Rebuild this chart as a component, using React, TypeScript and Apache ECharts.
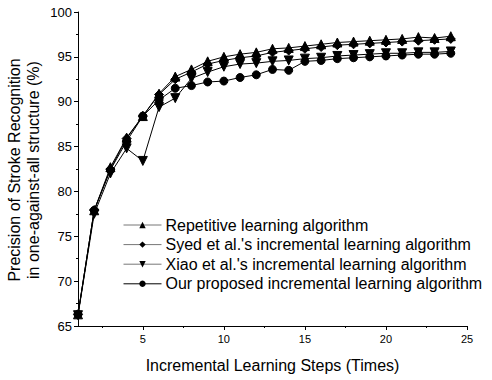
import React, { useEffect, useRef } from "react";
import * as echarts from "echarts";

const steps = [1,2,3,4,5,6,7,8,9,10,11,12,13,14,15,16,17,18,19,20,21,22,23,24];
const repetitive = [66.3, 77.9, 82.7, 86.0, 88.4, 90.9, 92.8, 93.6, 94.5, 95.0, 95.3, 95.5, 95.9, 96.0, 96.2, 96.4, 96.6, 96.7, 96.8, 96.9, 97.0, 97.2, 97.1, 97.3];
const syed = [66.3, 77.9, 82.5, 85.9, 88.4, 90.8, 92.5, 93.3, 94.2, 94.6, 94.9, 95.1, 95.5, 95.7, 95.9, 96.1, 96.3, 96.4, 96.5, 96.6, 96.7, 96.8, 96.9, 97.0];
const xiao = [66.2, 77.5, 82.0, 84.8, 83.4, 89.4, 90.4, 92.6, 93.3, 93.9, 94.2, 94.3, 94.5, 94.6, 94.8, 94.9, 95.1, 95.2, 95.3, 95.4, 95.4, 95.5, 95.5, 95.6];
const ours = [66.3, 77.9, 82.4, 85.6, 88.4, 90.2, 91.5, 91.8, 92.2, 92.3, 92.7, 93.0, 93.6, 93.5, 94.5, 94.6, 94.8, 94.9, 95.0, 95.1, 95.2, 95.3, 95.3, 95.4];
const seriesNames = [
  "Repetitive learning algorithm",
  "Syed et al.'s incremental learning algorithm",
  "Xiao et al.'s incremental learning algorithm",
  "Our proposed incremental learning algorithm",
];
const xMajorTicks = [5, 10, 15, 20, 25];
const xMinorTicks = [2.5, 7.5, 12.5, 17.5, 22.5];

const FONT = "'Liberation Sans', Arial, sans-serif";
const triDown = "path://M0,0 L10,0 L5,9 Z";

export default function App() {
  const ref = useRef<HTMLDivElement>(null);
  useEffect(() => {
    const chart = echarts.init(ref.current!, null, { renderer: "svg" });
    const mk = (vals: number[]) => steps.map((s, i) => [s, vals[i]]);
    const symbols = ["triangle", "diamond", triDown, "circle"];
    const sizes = [9, 9, 9, 8];
    const allData = [repetitive, syed, xiao, ours];
    chart.setOption({
      animation: false,
      backgroundColor: "#fff",
      textStyle: { fontFamily: FONT },
      grid: { left: 78, right: 25, top: 12, bottom: 54, containLabel: false },
      xAxis: [
        {
          type: "value",
          min: 1,
          max: 25,
          name: "Incremental Learning Steps (Times)",
          nameLocation: "middle",
          nameGap: 31,
          nameTextStyle: { fontSize: 16, color: "#000", fontFamily: FONT },
          axisLine: { show: true, lineStyle: { color: "#000", width: 1 } },
          axisTick: { show: true, length: 4, lineStyle: { color: "#000" }, customValues: xMajorTicks },
          axisLabel: { color: "#000", fontSize: 11, margin: 7, fontFamily: FONT, customValues: xMajorTicks },
          splitLine: { show: false },
        },
        {
          type: "value",
          min: 1,
          max: 25,
          position: "bottom",
          axisLine: { show: false },
          axisTick: { show: true, length: 2, lineStyle: { color: "#000" }, customValues: xMinorTicks },
          axisLabel: { show: false },
          splitLine: { show: false },
        },
      ],
      yAxis: {
        type: "value",
        min: 65,
        max: 100,
        interval: 5,
        axisLine: { show: true, lineStyle: { color: "#000", width: 1 } },
        axisTick: { show: true, length: 4, lineStyle: { color: "#000" } },
        minorTick: { show: true, splitNumber: 2, length: 2, lineStyle: { color: "#000" } },
        axisLabel: { color: "#000", fontSize: 13, margin: 6, fontFamily: FONT },
        splitLine: { show: false },
      },
      legend: {
        orient: "vertical",
        left: 118,
        top: 212,
        itemWidth: 38,
        itemHeight: 8,
        itemGap: 3.6,
        textStyle: { fontSize: 16, lineHeight: 16, color: "#000", fontFamily: FONT, padding: [0, 0, 0, -1] },
        data: seriesNames.map((n, i) => ({
          name: n,
          lineStyle: { color: i < 3 ? "#777" : "#000", width: 1 },
        })),
      },
      graphic: [
        {
          type: "text",
          x: 24,
          y: 170,
          rotation: Math.PI / 2,
          style: {
            text: "Precision of Stroke Recognition\nin one-against-all structure (%)",
            fontSize: 16,
            lineHeight: 19,
            fontFamily: FONT,
            fill: "#000",
            align: "center",
            verticalAlign: "middle",
          },
        },
      ],
      series: allData.map((vals, i) => ({
        name: seriesNames[i],
        type: "line",
        xAxisIndex: 0,
        data: mk(vals),
        symbol: symbols[i],
        symbolSize: sizes[i],
        showAllSymbol: true,
        itemStyle: { color: "#000", borderColor: "#000" },
        lineStyle: { color: "#000", width: 1 },
        z: 10 - i,
      })),
    });
    return () => chart.dispose();
  }, []);
  return <div ref={ref} style={{ width: 492, height: 380, position: "absolute", left: 0, top: 0 }} />;
}
